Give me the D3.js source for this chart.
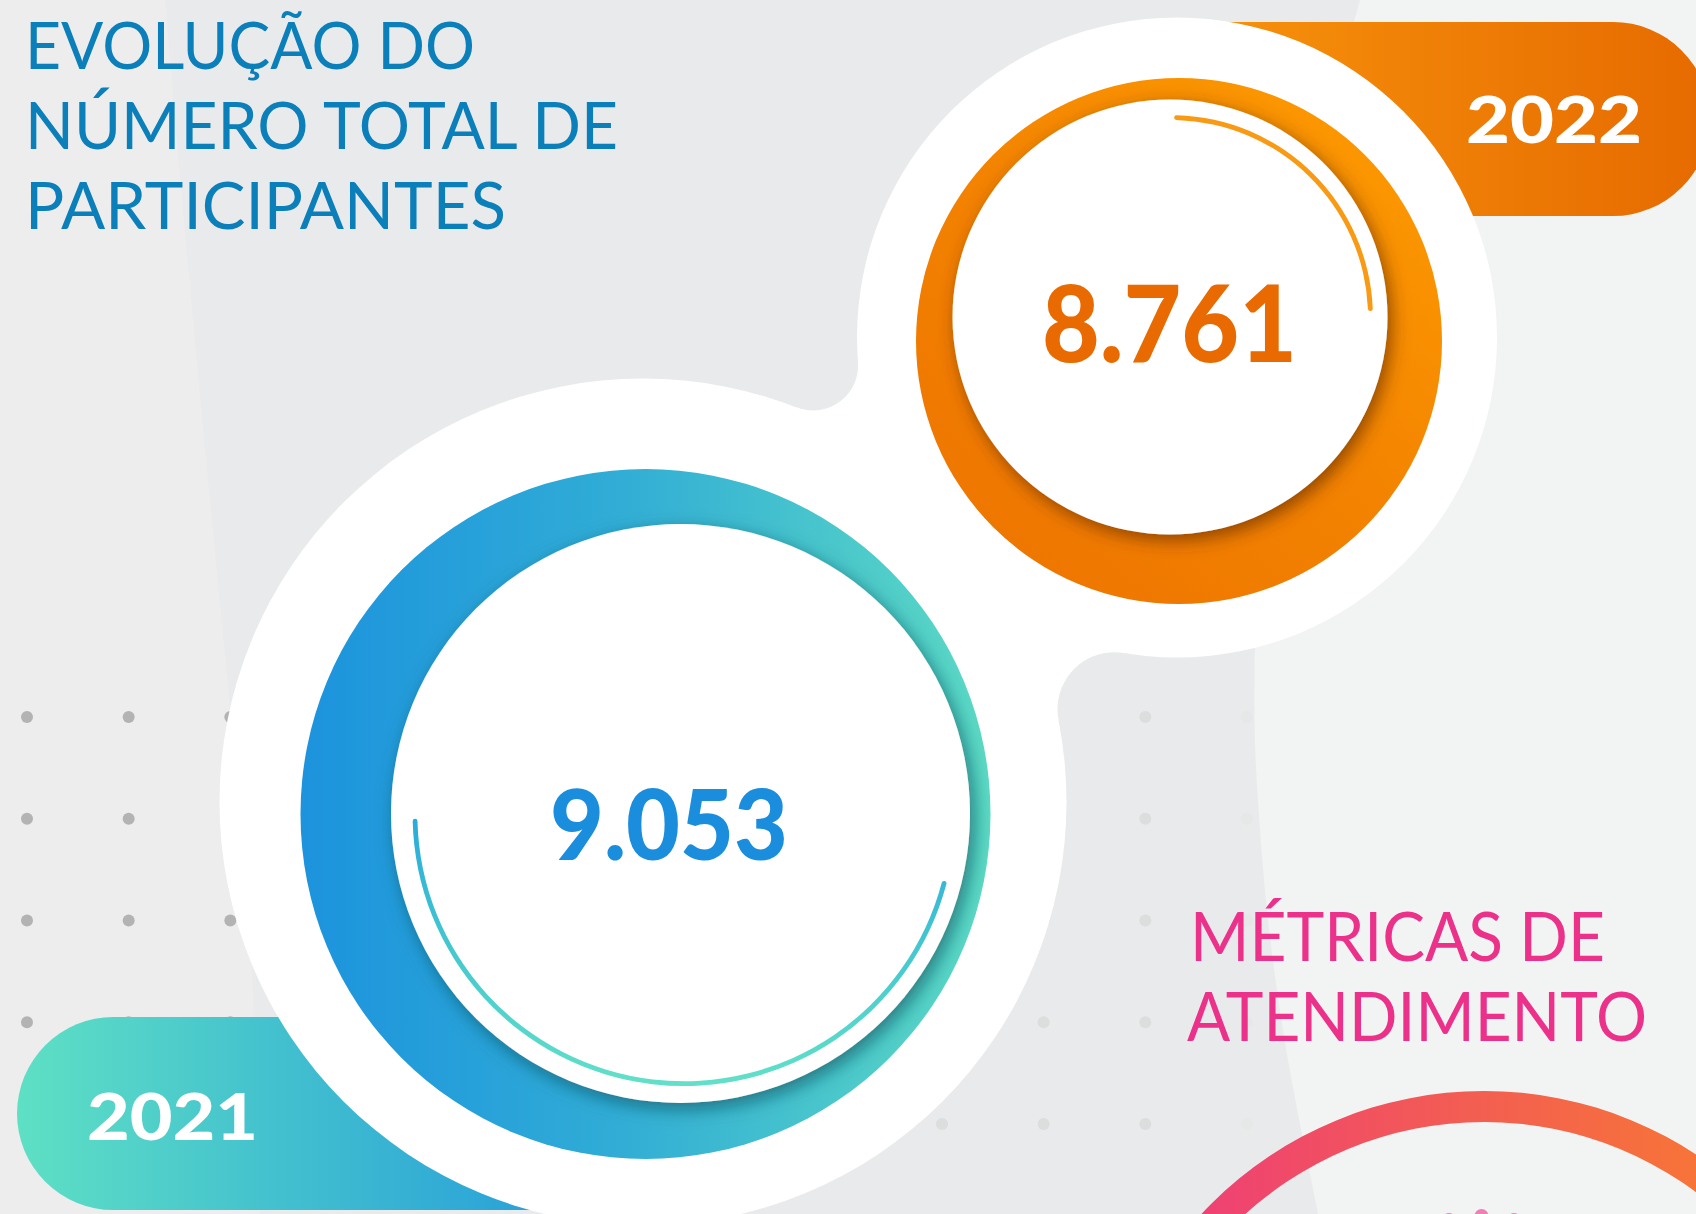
<!DOCTYPE html>
<html>
<head>
<meta charset="utf-8">
<script src="https://cdnjs.cloudflare.com/ajax/libs/d3/7.8.5/d3.min.js"></script>
<style>
  html, body { margin: 0; padding: 0; background: #e9eaeb; }
  svg { display: block; }
</style>
</head>
<body>
<svg id="chart"></svg>
<script>
// ---- data ----
const years = ["2021", "2022"];
const participants = [9053, 8761];
const progressStart = [104.3, 0.9];   // degrees, clockwise from 12 o'clock
const progressEnd = [269.1, 88.3];
const titleLines = ["EVOLUÇÃO DO", "NÚMERO TOTAL DE", "PARTICIPANTES"];
const sectionLines = ["MÉTRICAS DE", "ATENDIMENTO"];
const dotCols = d3.range(13);
const dotRows = d3.range(5);

const W = 1696, H = 1214;
const numFont = "Lato, 'Open Sans', sans-serif";

// layout (not data)
const blobA = {cx: 1177, cy: 337.5, r: 320};
const blobB = {cx: 643, cy: 802, r: 423.5};
const rings = [
    {outer: {cx: 645.5, cy: 814, r: 345}, inner: {cx: 680.5, cy: 813.5, r: 289.5},
     arc: {cx: 684, cy: 814.6, r: 269}, grad: "blueRing", arcFill: "url(#blueArc)",
     shadow: "shadowBlue", num: {x: 669, y: 860, len: 238, size: 98, color: "#1a8edc"}},
    {outer: {cx: 1179, cy: 341, r: 263}, inner: {cx: 1170, cy: 317, r: 217.5},
     arc: {cx: 1171, cy: 317, r: 199.5}, grad: "orangeRing", arcFill: "#f99a14",
     shadow: "shadowOrange", num: {x: 1169.5, y: 362, len: 255, size: 106, color: "#e86a00"}}
];
const pills = [
    {x: 17, y: 1017, w: 700, h: 193, grad: "tealPill", tx: 87, ty: 1140, len: 171},
    {x: 1100, y: 22, w: 610, h: 194, grad: "orangePill", tx: 1466, ty: 143, len: 176}
];

const fmt = d3.formatLocale({decimal: ",", thousands: ".", grouping: [3], currency: ["R$", ""]}).format(",d");
const toRad = d3.scaleLinear().domain([0, 360]).range([0, 2 * Math.PI]);
const dotX = d3.scaleLinear().domain([0, 12]).range([27, 1247]);
const dotY = d3.scaleLinear().domain([0, 4]).range([717, 1124]);

const svg = d3.select("#chart")
    .attr("width", W)
    .attr("height", H)
    .attr("viewBox", `0 0 ${W} ${H}`);
const defs = svg.append("defs");

function linGrad(id, x1, y1, x2, y2, stops) {
    const g = defs.append("linearGradient").attr("id", id)
        .attr("x1", x1).attr("y1", y1).attr("x2", x2).attr("y2", y2);
    stops.forEach(s => g.append("stop").attr("offset", s[0]).attr("stop-color", s[1]));
}
linGrad("orangeRing", 1, 0, 0.2, 1, [[0, "#ff9e00"], [0.55, "#f38300"], [1, "#ee7500"]]);
linGrad("blueRing", 0, 0, 1, 0, [[0, "#1c93dd"], [0.45, "#30acd6"], [1, "#5cdac4"]]);
linGrad("blueArc", 0, 0, 0, 1, [[0, "#29acd9"], [0.5, "#45c8d0"], [1, "#62e0c8"]]);
linGrad("orangePill", 0, 0, 1, 0, [[0, "#fa9a0e"], [1, "#e66a00"]]);
linGrad("tealPill", 0, 0, 0.72, 0, [[0, "#5ee0c4"], [1, "#2aa3d8"]]);
linGrad("pinkRing", 0, 0, 1, 0, [[0, "#ed3680"], [0.5, "#f35f50"], [1, "#fa8525"]]);

function shadow(id, color, op) {
    defs.append("filter").attr("id", id)
        .attr("x", "-20%").attr("y", "-20%").attr("width", "140%").attr("height", "140%")
        .append("feDropShadow")
        .attr("dx", 4).attr("dy", 6).attr("stdDeviation", 9)
        .attr("flood-color", color).attr("flood-opacity", op);
}
shadow("shadowOrange", "#6e3300", 0.75);
shadow("shadowBlue", "#0c5560", 0.7);

// ---- background ----
svg.append("rect").attr("width", W).attr("height", H).attr("fill", "#e9eaeb");
svg.append("path")
    .attr("d", "M0,0 L165,0 C190,300 215,560 250,900 L260,1214 L0,1214 Z")
    .attr("fill", "#ededed");
svg.append("path")
    .attr("d", "M1360,0 C1290,250 1240,560 1258,800 C1270,1000 1300,1120 1318,1214 L1696,1214 L1696,0 Z")
    .attr("fill", "#f2f3f3");

// dot grid
const dots = dotRows.flatMap(j => dotCols.map(i => ({i, j})));
svg.append("g").selectAll("circle")
    .data(dots)
    .join("circle")
    .attr("cx", d => dotX(d.i))
    .attr("cy", d => dotY(d.j))
    .attr("r", 6)
    .attr("fill", d => d.i >= 12 ? "#e6e7e7" : d.i >= 8 ? "#dcdddd" : "#b3b3b3");

// pink ring at bottom right
svg.append("path")
    .attr("transform", "translate(1484,1477)")
    .attr("d", d3.arc()({innerRadius: 355, outerRadius: 386, startAngle: 0, endAngle: 2 * Math.PI}))
    .attr("fill", "url(#pinkRing)");
svg.append("g").selectAll("circle")
    .data([[1449, 1220], [1481.5, 1216], [1514, 1220]])
    .join("circle")
    .attr("cx", d => d[0]).attr("cy", d => d[1]).attr("r", 7)
    .attr("fill", "#ef80b6");

// year pills (behind the white blob)
pills.forEach(p => {
    svg.append("rect")
        .attr("x", p.x).attr("y", p.y).attr("width", p.w).attr("height", p.h)
        .attr("rx", p.h / 2)
        .attr("fill", `url(#${p.grad})`);
});

// ---- white blob: two circles joined by fillets ----
function filletCenter(a, b, rf, side) {
    const R1 = a.r + rf, R2 = b.r + rf;
    const dx = b.cx - a.cx, dy = b.cy - a.cy, d = Math.hypot(dx, dy);
    const t = (d * d + R1 * R1 - R2 * R2) / (2 * d);
    const h = Math.sqrt(R1 * R1 - t * t);
    const ux = dx / d, uy = dy / d;
    return [a.cx + t * ux - side * h * uy, a.cy + t * uy + side * h * ux, rf];
}
const fL = filletCenter(blobA, blobB, 45, 1);
const fR = filletCenter(blobA, blobB, 57, -1);

const mask = defs.append("mask").attr("id", "blobMask")
    .attr("maskUnits", "userSpaceOnUse")
    .attr("x", 0).attr("y", 0).attr("width", W).attr("height", H);
mask.append("rect").attr("width", W).attr("height", H).attr("fill", "#000");
mask.append("path")
    .attr("d", `M${blobA.cx},${blobA.cy} L${fL[0]},${fL[1]} L${blobB.cx},${blobB.cy} L${fR[0]},${fR[1]} Z`)
    .attr("fill", "#fff");
mask.selectAll("circle.f").data([fL, fR]).join("circle")
    .attr("cx", d => d[0]).attr("cy", d => d[1]).attr("r", d => d[2]).attr("fill", "#000");
mask.selectAll("circle.b").data([blobA, blobB]).join("circle")
    .attr("cx", d => d.cx).attr("cy", d => d.cy).attr("r", d => d.r).attr("fill", "#fff");
svg.append("rect").attr("width", W).attr("height", H).attr("fill", "#fff").attr("mask", "url(#blobMask)");

// year labels
pills.forEach((p, i) => {
    svg.append("text")
        .attr("x", p.tx).attr("y", p.ty)
        .attr("textLength", p.len).attr("lengthAdjust", "spacingAndGlyphs")
        .attr("font-family", numFont)
        .attr("font-weight", 900)
        .attr("font-size", 65)
        .attr("fill", "#fff")
        .text(years[i]);
});

// ---- rings ----
const arcGen = d3.arc().cornerRadius(2.4);
rings.forEach((rg, i) => {
    const clipId = `clipRing${i}`;
    defs.append("clipPath").attr("id", clipId)
        .append("circle").attr("cx", rg.outer.cx).attr("cy", rg.outer.cy).attr("r", rg.outer.r);

    const g = svg.append("g");
    g.append("circle")
        .attr("cx", rg.outer.cx).attr("cy", rg.outer.cy).attr("r", rg.outer.r)
        .attr("fill", `url(#${rg.grad})`);
    g.append("g").attr("clip-path", `url(#${clipId})`)
        .append("circle")
        .attr("cx", rg.inner.cx).attr("cy", rg.inner.cy).attr("r", rg.inner.r)
        .attr("fill", "#fff")
        .attr("filter", `url(#${rg.shadow})`);

    g.append("path")
        .attr("transform", `translate(${rg.arc.cx},${rg.arc.cy})`)
        .attr("d", arcGen({
            innerRadius: rg.arc.r - 2.4, outerRadius: rg.arc.r + 2.4,
            startAngle: toRad(progressStart[i]), endAngle: toRad(progressEnd[i])
        }))
        .attr("fill", rg.arcFill);

    g.append("text")
        .attr("x", rg.num.x).attr("y", rg.num.y)
        .attr("text-anchor", "middle")
        .attr("textLength", rg.num.len).attr("lengthAdjust", "spacingAndGlyphs")
        .attr("font-family", numFont)
        .attr("font-weight", 900)
        .attr("font-size", rg.num.size)
        .attr("fill", rg.num.color)
        .text(fmt(participants[i]));
});

// ---- headings ----
const titleLen = [450, 593, 481];
svg.append("g").selectAll("text")
    .data(titleLines)
    .join("text")
    .attr("x", 25)
    .attr("y", (d, i) => 69 + i * 80)
    .attr("textLength", (d, i) => titleLen[i]).attr("lengthAdjust", "spacingAndGlyphs")
    .attr("font-family", "Lato, sans-serif")
    .attr("font-size", 66)
    .attr("fill", "#0b7fba")
    .text(d => d);

const sectionX = [1190, 1187];
const sectionLen = [415, 460];
svg.append("g").selectAll("text")
    .data(sectionLines)
    .join("text")
    .attr("x", (d, i) => sectionX[i])
    .attr("y", (d, i) => 961 + i * 80)
    .attr("textLength", (d, i) => sectionLen[i]).attr("lengthAdjust", "spacingAndGlyphs")
    .attr("font-family", "Lato, sans-serif")
    .attr("font-size", 67)
    .attr("fill", "#eb318a")
    .text(d => d);
</script>
</body>
</html>
